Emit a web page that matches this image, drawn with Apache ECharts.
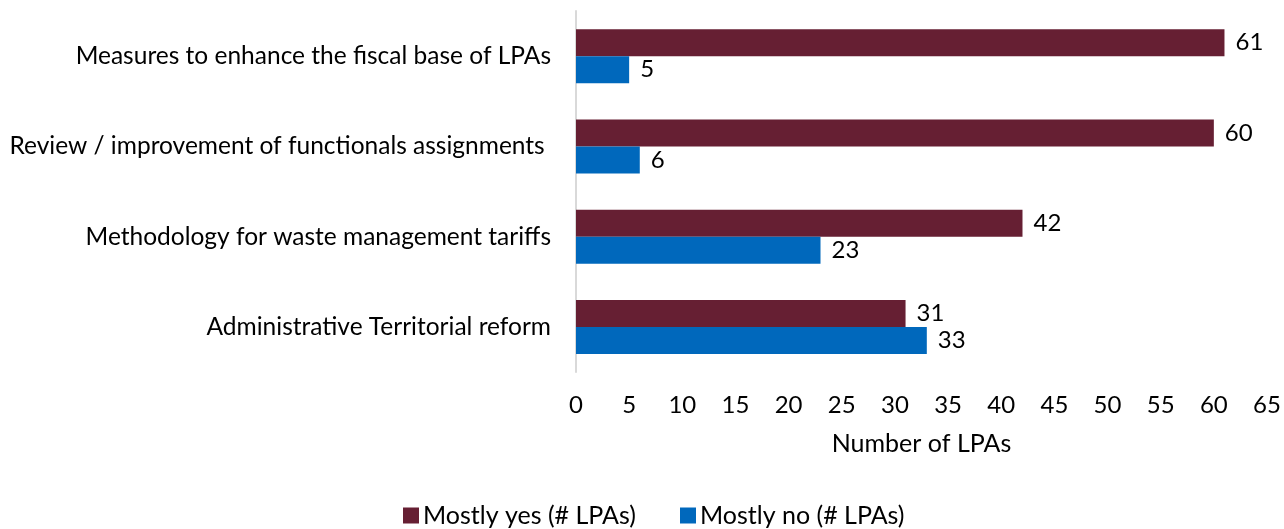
<!DOCTYPE html>
<html><head><meta charset="utf-8">
<script src="https://cdn.jsdelivr.net/npm/echarts@6/dist/echarts.min.js"></script>
<style>html,body{margin:0;padding:0;background:#fff}#c{width:1284px;height:529px}</style>
</head><body><div id="c"></div>
<script>
const categories = ["Measures to enhance the fiscal base of LPAs", "Review / improvement of functionals assignments ", "Methodology for waste management tariffs", "Administrative Territorial reform"];
const mostlyYes = [61, 60, 42, 31];
const mostlyNo = [5, 6, 23, 33];
const seriesNames = ["Mostly yes (# LPAs)", "Mostly no (# LPAs)"];
const xTicks = {min: 0, max: 65, interval: 5};
const FONT = "Lato";
const chart = echarts.init(document.getElementById('c'));
const lbl = {show: true, position: 'right', distance: 11, color: '#000', fontSize: 24, fontFamily: FONT};
chart.setOption({
  animation: false,
  textStyle: {fontFamily: FONT},
  grid: {left: 576, right: 17, top: 11, bottom: 157, containLabel: false, outerBoundsMode: 'none'},
  legend: {top: 503, left: 403, padding: 0, itemWidth: 16, itemHeight: 16, itemGap: 44, icon: 'rect',
    textStyle: {fontSize: 25, color: '#000', fontFamily: FONT, padding: [0, 0, 0, -1]}, data: seriesNames},
  xAxis: {type: 'value', min: xTicks.min, max: xTicks.max, interval: xTicks.interval,
    axisLine: {show: false}, axisTick: {show: false}, splitLine: {show: false},
    axisLabel: {fontSize: 24, color: '#000', margin: 21, fontFamily: FONT},
    name: 'Number of LPAs', nameLocation: 'middle', nameGap: 59,
    nameTextStyle: {fontSize: 25, color: '#000', fontFamily: FONT}},
  yAxis: {type: 'category', data: categories, inverse: true,
    axisLine: {show: true, lineStyle: {color: '#d9d9d9', width: 2}}, axisTick: {show: false},
    axisLabel: {fontSize: 24.5, color: '#000', margin: 25, fontFamily: FONT}},
  series: [
    {name: seriesNames[0], type: 'bar', data: mostlyYes, barWidth: 27, barGap: '0%',
     itemStyle: {color: '#661F33'}, label: lbl},
    {name: seriesNames[1], type: 'bar', data: mostlyNo, barWidth: 27,
     itemStyle: {color: '#0068BC'}, label: lbl}
  ]
});
</script></body></html>
